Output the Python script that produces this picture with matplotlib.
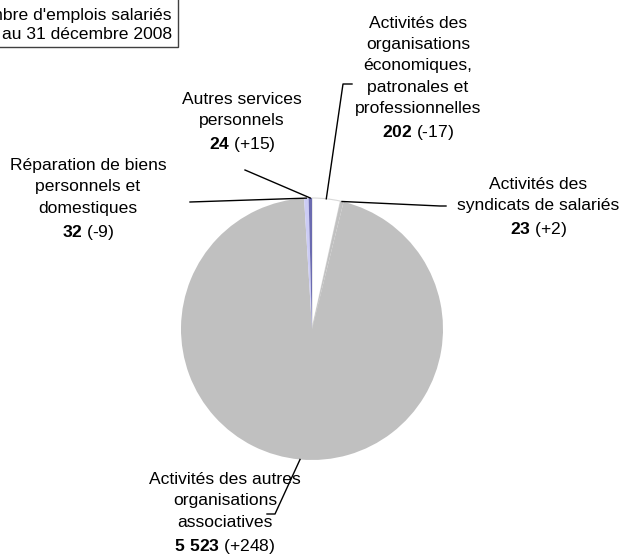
import numpy as np
import matplotlib
matplotlib.use('Agg')
import matplotlib.pyplot as plt
from matplotlib.patches import Rectangle

plt.rcParams['font.family'] = ['Liberation Sans', 'DejaVu Sans']
plt.rcParams['mathtext.fontset'] = 'custom'
plt.rcParams['mathtext.rm'] = 'Liberation Sans'
plt.rcParams['mathtext.bf'] = 'Liberation Sans:bold'

# data (clockwise from 12 o'clock)
names = ["Activités des\norganisations\néconomiques,\npatronales et\nprofessionnelles",
         "Activités des\nsyndicats de salariés",
         "Activités des autres\norganisations\nassociatives",
         "Réparation de biens\npersonnels et\ndomestiques",
         "Autres services\npersonnels"]
values = [202, 23, 5523, 32, 24]
values_txt = ["202", "23", "5\\ 523", "32", "24"]
changes = ["(-17)", "(+2)", "(+248)", "(-9)", "(+15)"]
colors = ['#ffffff', '#c0c0c0', '#c0c0c0', '#ccccf5', '#6b6bb0']

W, H = 635, 557
cx, cy, R = 312, 329, 131   # pie centre / radius in pixels

fig = plt.figure(figsize=(W/100, H/100), dpi=100)
ax = fig.add_axes([(cx-R)/W, (H-cy-R)/H, 2*R/W, 2*R/H])
wedges, _ = ax.pie(values, colors=colors, startangle=90, counterclock=False,
                   radius=1, wedgeprops=dict(linewidth=0))
wedges[0].set_edgecolor('#d8d8d8')
wedges[0].set_linewidth(0.8)
ax.set_xlim(-1, 1); ax.set_ylim(-1, 1)
ax.set_aspect('equal')
ax.axis('off')

def d(px, py):
    return ((px-cx)/R, (cy-py)/R)

# label centres and leader line path (pixels)
label_pos = [(418, 79), (538, 208), (225, 514), (88, 200), (242, 123)]
leader = [[(343, 84), (352, 84)],
          [(440, 206), (446, 206)],
          [(275, 514), (267, 514)],
          [(190, 202)],
          [(245, 170)]]

for w, name, v, c, pos, path in zip(wedges, names, values_txt, changes, label_pos, leader):
    ang = np.deg2rad((w.theta1 + w.theta2) / 2)
    x0, y0 = np.cos(ang), np.sin(ang)
    pts = [(x0, y0)] + [d(*p) for p in path]
    xs, ys = zip(*pts)
    ax.plot(xs, ys, color='black', lw=1, clip_on=False)
    tx, ty = d(*pos)
    ax.text(tx, ty, name + "\n$\\mathbf{" + v + "}$ " + c, ha='center', va='center',
            fontsize=12.6, linespacing=1.52, multialignment='center')

# title box (cut off at top-left as in the source)
fig.patches.append(Rectangle((-20/W, 1-47/H), 198/W, 60/H, transform=fig.transFigure,
                             facecolor='white', edgecolor='#404040', lw=1))
fig.text(172/W, 1-25/H, "Nombre d'emplois salariés\nau 31 décembre 2008", ha='right',
         va='center', fontsize=12.6, linespacing=1.33)

plt.savefig('out.png', dpi=100)
